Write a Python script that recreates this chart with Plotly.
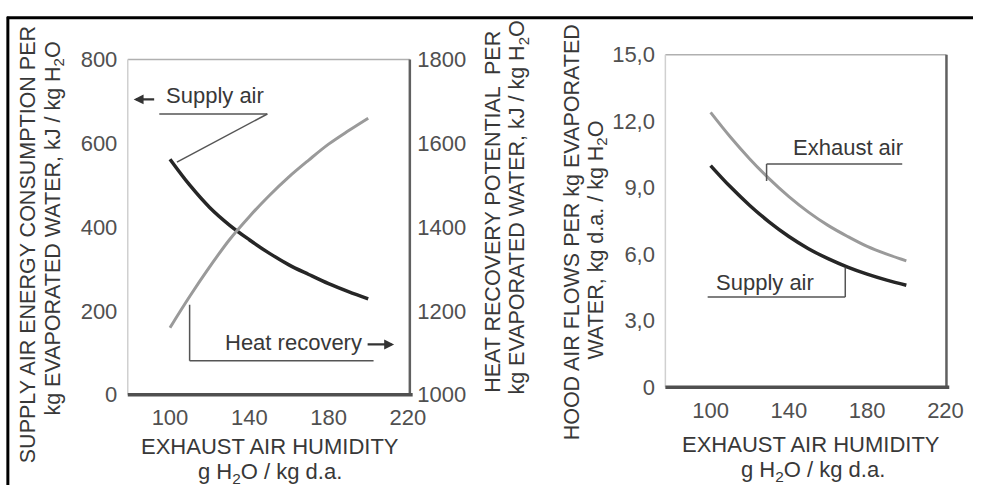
import plotly.graph_objects as go

# ---- data ----
humidity = [100, 110, 120, 130, 140, 150, 160, 170, 180, 190, 200]
supply_energy = [562, 500, 447, 405, 370, 338, 310, 287, 265, 246, 229]          # kJ / kg H2O (left axis)
heat_recovery = [1160, 1235, 1305, 1370, 1425, 1475, 1520, 1560, 1598, 1630, 1660]  # kJ / kg H2O (right axis)
exhaust_flow = [12.4, 11.3, 10.3, 9.4, 8.6, 7.9, 7.3, 6.8, 6.35, 6.0, 5.7]       # kg d.a. / kg H2O
supply_flow = [10.0, 9.05, 8.2, 7.45, 6.8, 6.25, 5.8, 5.42, 5.1, 4.83, 4.6]

x_ticks = [100, 140, 180, 220]
left_ticks = [0, 200, 400, 600, 800]
right_ticks = [1000, 1200, 1400, 1600, 1800]
flow_ticks = [0, 3, 6, 9, 12, 15]
flow_tick_text = ["0", "3,0", "6,0", "9,0", "12,0", "15,0"]

W, H = 990, 498
FONT = "Liberation Sans, Arial, Helvetica, sans-serif"
TXT = "#383838"
TICK = "#505050"
FS = 22
FS_ROT = 21.5

def px(x):
    return x / W

def py(y):
    return 1 - y / H

fig = go.Figure()

fig.add_trace(go.Scatter(x=humidity, y=supply_energy, mode="lines", line=dict(color="#262626", width=3.5, shape="spline"),
                         xaxis="x", yaxis="y", showlegend=False))
fig.add_trace(go.Scatter(x=humidity, y=heat_recovery, mode="lines", line=dict(color="#9a9a9a", width=3, shape="spline"),
                         xaxis="x", yaxis="y2", showlegend=False))
fig.add_trace(go.Scatter(x=humidity, y=exhaust_flow, mode="lines", line=dict(color="#9a9a9a", width=3, shape="spline"),
                         xaxis="x3", yaxis="y3", showlegend=False))
fig.add_trace(go.Scatter(x=humidity, y=supply_flow, mode="lines", line=dict(color="#262626", width=3.5, shape="spline"),
                         xaxis="x3", yaxis="y3", showlegend=False))

tickfont = dict(family=FONT, size=FS, color=TICK)
xcommon = dict(tickvals=x_ticks, tickfont=tickfont, showgrid=False, zeroline=False, ticks="outside",
               ticklen=3, tickcolor="rgba(0,0,0,0)", showline=False, fixedrange=True)
ycommon = dict(tickfont=tickfont, showgrid=False, zeroline=False, ticks="outside", tickcolor="rgba(0,0,0,0)",
               showline=False, fixedrange=True)

fig.update_layout(
    width=W, height=H, margin=dict(l=0, r=0, t=0, b=0),
    paper_bgcolor="white", plot_bgcolor="white",
    xaxis=dict(domain=[px(130), px(417)], range=[78.7, 221], anchor="y", **xcommon),
    yaxis=dict(domain=[py(403), py(50)], range=[0, 800], tickvals=left_ticks, ticklen=5, anchor="x", **ycommon),
    yaxis2=dict(overlaying="y", side="right", range=[1000, 1800], tickvals=right_ticks, ticklen=2, anchor="x",
                **ycommon),
    xaxis3=dict(domain=[px(677), px(963)], range=[76.9, 220.5], anchor="y3", **xcommon),
    yaxis3=dict(domain=[py(395), py(45)], range=[0, 15], tickvals=flow_ticks, ticktext=flow_tick_text,
                ticklen=5, anchor="x3", **ycommon),
)

shapes = []
def frame(xr, yr):
    return [
        dict(type="line", xref=xr + " domain", yref=yr + " domain", x0=0, x1=1, y0=1, y1=1,
             line=dict(color="#b0b0b0", width=1.5)),
        dict(type="line", xref=xr + " domain", yref=yr + " domain", x0=0, x1=0, y0=0, y1=1,
             line=dict(color="#d0d0d0", width=1.5)),
        dict(type="line", xref=xr + " domain", yref=yr + " domain", x0=1, x1=1, y0=0, y1=1,
             line=dict(color="#606060", width=2.5)),
        dict(type="line", xref=xr + " domain", yref=yr + " domain", x0=0, x1=1.01, y0=0, y1=0,
             line=dict(color="#505050", width=3.5)),
    ]
shapes += frame("x", "y")
shapes += frame("x3", "y3")

# leader lines, left chart
lc = dict(color="#555555", width=1.5)
shapes += [
    dict(type="line", xref="x", yref="y", x0=94.6, x1=149.1, y0=670, y1=670, line=lc),
    dict(type="line", xref="x", yref="y", x0=149.1, x1=103.5, y0=670, y1=555, line=lc),
    dict(type="line", xref="x", yref="y", x0=109.9, x1=109.9, y0=215, y1=81, line=lc),
    dict(type="line", xref="x", yref="y", x0=109.9, x1=202.7, y0=81, y1=81, line=lc),
]
# leader lines, right chart
shapes += [
    dict(type="line", xref="x3", yref="y3", x0=128.6, x1=197.9, y0=10.07, y1=10.07, line=lc),
    dict(type="line", xref="x3", yref="y3", x0=128.6, x1=128.6, y0=10.07, y1=9.3, line=lc),
    dict(type="line", xref="x3", yref="y3", x0=98.5, x1=168.8, y0=4.07, y1=4.07, line=lc),
    dict(type="line", xref="x3", yref="y3", x0=168.8, x1=168.8, y0=4.07, y1=5.4, line=lc),
]
# outer scan frame (top + left edges)
shapes += [
    dict(type="line", xref="paper", yref="paper", x0=px(7), x1=1, y0=py(6), y1=py(6),
         line=dict(color="black", width=3)),
    dict(type="line", xref="paper", yref="paper", x0=px(8), x1=px(8), y0=py(5), y1=0,
         line=dict(color="black", width=3)),
]
fig.update_layout(shapes=shapes)

tf = dict(family=FONT, size=FS, color=TXT)
tfr = dict(family=FONT, size=FS_ROT, color=TXT)
ann = []
def pa(text, x, y, angle=0, xanchor="center", font=tf):
    ann.append(dict(text=text, x=px(x), y=py(y), xref="paper", yref="paper", showarrow=False,
                    textangle=angle, xanchor=xanchor, yanchor="middle", font=font))

def arrow(x_head, y, dx):
    ann.append(dict(text="", x=px(x_head), y=py(y), xref="paper", yref="paper", showarrow=True,
                    ax=dx, ay=0, arrowhead=2, arrowsize=0.9, arrowwidth=2.2, arrowcolor="#333333"))

# axis titles
pa("SUPPLY AIR ENERGY CONSUMPTION PER", 28, 245, -90, font=tfr)
pa("kg EVAPORATED WATER, kJ / kg H<sub>2</sub>O", 55, 228, -90, font=tfr)
pa("HEAT RECOVERY POTENTIAL  PER", 502, 210, -90, font=tfr)
pa("kg EVAPORATED WATER, kJ / kg H<sub>2</sub>O", 528, 206, -90, font=tfr)
pa("HOOD AIR FLOWS PER kg EVAPORATED", 582, 232, -90, font=tfr)
pa("WATER, kg d.a. / kg H<sub>2</sub>O", 608, 240, -90, font=tfr)
pa("EXHAUST AIR HUMIDITY", 275, 457)
pa("g H<sub>2</sub>O / kg d.a.", 275, 485)
pa("EXHAUST AIR HUMIDITY", 825, 455)
pa("g H<sub>2</sub>O / kg d.a.", 827, 483)

# curve labels
pa("Supply air", 167, 88, xanchor="left")
arrow(136, 92, 22)
pa("Heat recovery", 227, 348, xanchor="left")
arrow(401, 350, -28)
pa("Exhaust air", 805, 143, xanchor="left")
pa("Supply air", 726, 285, xanchor="left")

fig.update_layout(annotations=ann)

fig.write_html("out.html", config={"displayModeBar": False},
               post_script="document.body.style.margin='0';document.body.style.overflow='hidden';")
